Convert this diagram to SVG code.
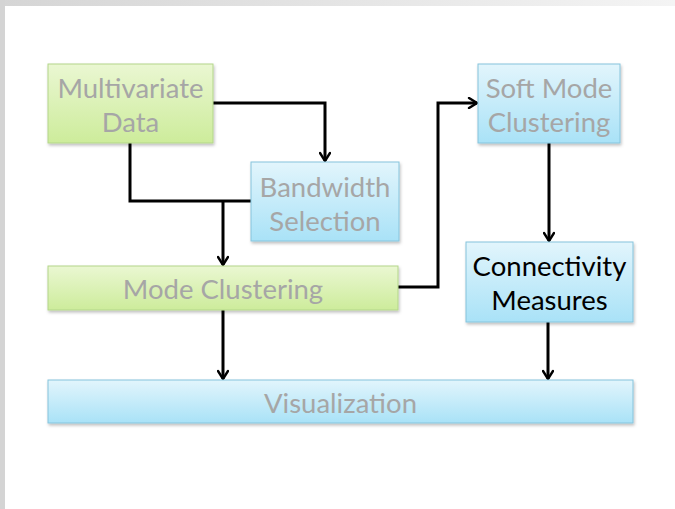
<svg xmlns="http://www.w3.org/2000/svg" width="675" height="509" viewBox="0 0 675 509">
  <defs>
    <linearGradient id="topEdge" x1="0" y1="0" x2="1" y2="0">
      <stop offset="0" stop-color="#d5d5d5"/>
      <stop offset="1" stop-color="#f4f4f4"/>
    </linearGradient>
    <linearGradient id="greenFill" x1="0" y1="0" x2="0" y2="1">
      <stop offset="0" stop-color="#eaf7d2"/>
      <stop offset="1" stop-color="#cdec9b"/>
    </linearGradient>
    <linearGradient id="blueFill" x1="0" y1="0" x2="0" y2="1">
      <stop offset="0" stop-color="#e2f5fc"/>
      <stop offset="1" stop-color="#a9e2f7"/>
    </linearGradient>
    <filter id="shadow" x="-10%" y="-10%" width="120%" height="130%">
      <feDropShadow dx="1" dy="2" stdDeviation="1.5" flood-color="#000" flood-opacity="0.25"/>
    </filter>
    <marker id="arrow" viewBox="0 0 12 12" refX="10" refY="6" markerWidth="12" markerHeight="12" markerUnits="userSpaceOnUse" orient="auto">
      <path d="M2,1 L10,6 L2,11" fill="none" stroke="#000" stroke-width="2.4" stroke-linecap="round" stroke-linejoin="miter"/>
    </marker>
    <style>
      .green { fill: url(#greenFill); stroke: #b3d68a; stroke-width: 1; filter: url(#shadow); }
      .blue { fill: url(#blueFill); stroke: #86c4dc; stroke-width: 1; filter: url(#shadow); }
      .label { font-family: "Lato", "Open Sans", sans-serif; font-size: 27.5px; fill: #a6a6a6; text-anchor: middle; }
      .dark { fill: #000; }
      .wire { fill: none; stroke: #000; stroke-width: 3; stroke-linejoin: miter; }
    </style>
  </defs>

  <!-- page background with frame edges -->
  <rect x="0" y="0" width="675" height="509" fill="#fff"/>
  <rect x="0" y="0" width="675" height="6" fill="url(#topEdge)"/>
  <rect x="0" y="0" width="5" height="509" fill="#d4d4d4"/>

  <!-- connectors -->
  <g id="connectors">
    <path class="wire" d="M213,103 H325 V161" marker-end="url(#arrow)"/>
    <path class="wire" d="M130,143 V201 H251"/>
    <path class="wire" d="M223,201 V265" marker-end="url(#arrow)"/>
    <path class="wire" d="M398,287 H438 V103 H477" marker-end="url(#arrow)"/>
    <path class="wire" d="M549,143 V241" marker-end="url(#arrow)"/>
    <path class="wire" d="M223,310 V379" marker-end="url(#arrow)"/>
    <path class="wire" d="M548,322 V379" marker-end="url(#arrow)"/>
  </g>

  <g id="multivariate-data">
    <rect class="green" x="48" y="64" width="165" height="79"/>
    <text class="label" x="130.5" y="98">Multivariate</text>
    <text class="label" x="130.5" y="132">Data</text>
  </g>

  <g id="bandwidth-selection">
    <rect class="blue" x="251" y="162" width="148" height="79"/>
    <text class="label" x="325" y="197">Bandwidth</text>
    <text class="label" x="325" y="231">Selection</text>
  </g>

  <g id="soft-mode-clustering">
    <rect class="blue" x="478" y="64" width="142" height="79"/>
    <text class="label" x="549" y="98">Soft Mode</text>
    <text class="label" x="549" y="132">Clustering</text>
  </g>

  <g id="connectivity-measures">
    <rect class="blue" x="466" y="242" width="167" height="80"/>
    <text class="label dark" x="549.5" y="276">Connectivity</text>
    <text class="label dark" x="549.5" y="310">Measures</text>
  </g>

  <g id="mode-clustering">
    <rect class="green" x="48" y="266" width="350" height="44"/>
    <text class="label" x="223" y="299">Mode Clustering</text>
  </g>

  <g id="visualization">
    <rect class="blue" x="48" y="380" width="585" height="43"/>
    <text class="label" x="340.5" y="413">Visualization</text>
  </g>
</svg>
